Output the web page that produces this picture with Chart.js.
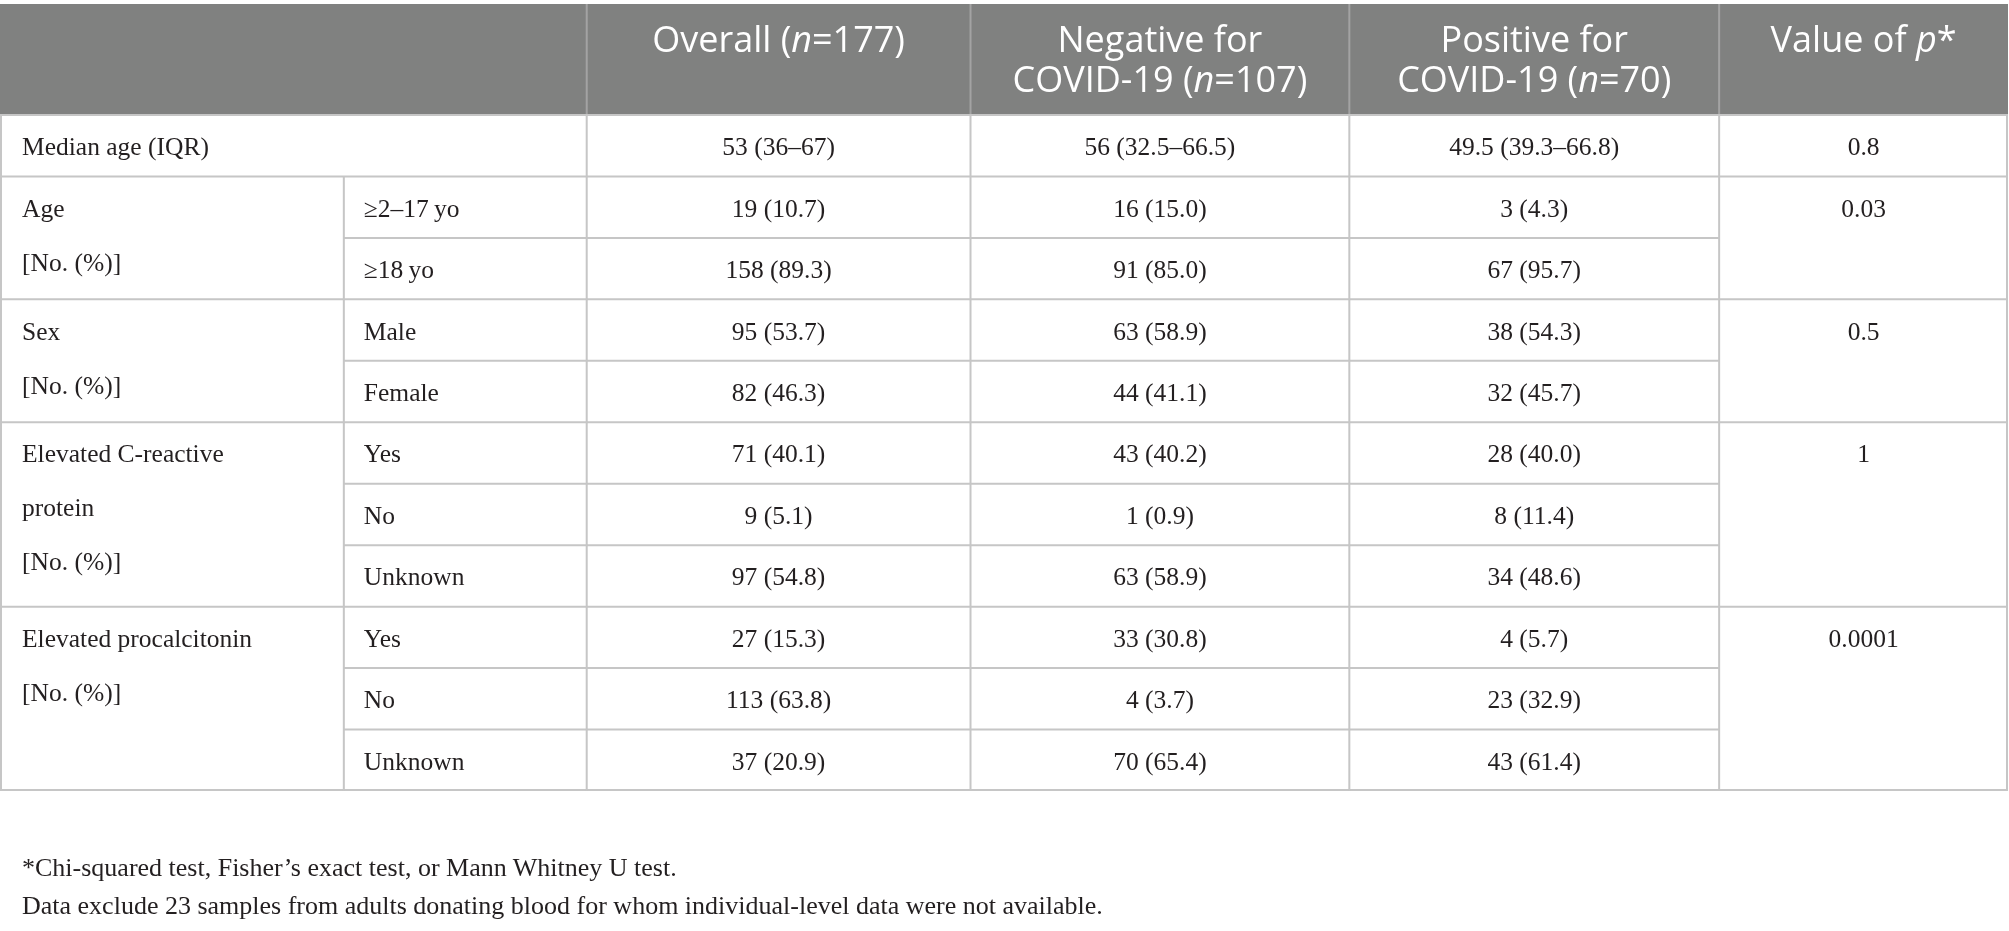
<!DOCTYPE html>
<html>
<head>
<meta charset="utf-8">
<script src="https://cdn.jsdelivr.net/npm/chart.js@4.4.1/dist/chart.umd.min.js"></script>
<style>
  html, body { margin: 0; padding: 0; background: #fff; }
  #wrap { position: relative; width: 2009px; height: 931px; }
  #box { position: absolute; left: 0; top: 0; width: 2009px; height: 931px; }
  .note { position: absolute; left: 22px; font: 26px 'Liberation Serif', serif; line-height: 30px; color: #231f20; white-space: nowrap; }
</style>
</head>
<body>
<div id="wrap">
  <div id="box"><canvas id="tbl"></canvas></div>
  <div class="note" style="top:853px">*Chi-squared test, Fisher’s exact test, or Mann Whitney U test.</div>
  <div class="note" style="top:891px">Data exclude 23 samples from adults donating blood for whom individual-level data were not available.</div>
</div>
<script>
// table content (underscores mark italic runs)
const headers = ['', '', 'Overall (_n_=177)', 'Negative for\nCOVID-19 (_n_=107)', 'Positive for\nCOVID-19 (_n_=70)', 'Value of _p_*'];
const groupLabels = ['Median age (IQR)', 'Age\n[No. (%)]', 'Sex\n[No. (%)]', 'Elevated C-reactive\nprotein\n[No. (%)]', 'Elevated procalcitonin\n[No. (%)]'];
const groupRows = [1, 2, 2, 3, 3];
const subLabels = ['', '≥2–17\u2009yo', '≥18\u2009yo', 'Male', 'Female', 'Yes', 'No', 'Unknown', 'Yes', 'No', 'Unknown'];
const overall = ['53 (36–67)', '19 (10.7)', '158 (89.3)', '95 (53.7)', '82 (46.3)', '71 (40.1)', '9 (5.1)', '97 (54.8)', '27 (15.3)', '113 (63.8)', '37 (20.9)'];
const negative = ['56 (32.5–66.5)', '16 (15.0)', '91 (85.0)', '63 (58.9)', '44 (41.1)', '43 (40.2)', '1 (0.9)', '63 (58.9)', '33 (30.8)', '4 (3.7)', '70 (65.4)'];
const positive = ['49.5 (39.3–66.8)', '3 (4.3)', '67 (95.7)', '38 (54.3)', '32 (45.7)', '28 (40.0)', '8 (11.4)', '34 (48.6)', '4 (5.7)', '23 (32.9)', '43 (61.4)'];
const pValues = ['0.8', '0.03', '0.5', '1', '0.0001'];

// layout
const colWidths = [344, 243, 384, 379, 370, 289];
const headUnits = 1.806;
const bodyFont = "25.5px 'Liberation Serif', serif";
const headFont = "36px 'Open Sans', sans-serif";
const headItalic = "italic 36px 'Open Sans', sans-serif";
const textColor = '#231f20';
const lineColor = '#c6c6c6';

const edges = colWidths.reduce((acc, w) => { acc.push(acc[acc.length - 1] + w); return acc; }, [0]);
const nRows = overall.length;
const groupStart = groupRows.reduce((acc, n, i) => { acc.push(i ? acc[i - 1] + groupRows[i - 1] : 0); return acc; }, []);
const rowCenter = i => headUnits + i + 0.5;
const colCenter = c => (edges[c] + edges[c + 1]) / 2;

function cells(texts, col, rows, align, pad) {
  return {
    data: rows.map(r => ({ x: align === 'left' ? edges[col] : colCenter(col), y: rowCenter(r) })),
    texts: texts,
    align: align,
    pad: pad || 0,
    pointRadius: 0,
    showLine: false
  };
}

const allRows = overall.map((_, i) => i);
const datasets = [
  cells(groupLabels, 0, groupStart, 'left', 22),
  cells(subLabels.slice(1), 1, allRows.slice(1), 'left', 20),
  cells(overall, 2, allRows, 'center'),
  cells(negative, 3, allRows, 'center'),
  cells(positive, 4, allRows, 'center'),
  cells(pValues, 5, groupStart, 'center')
];

function drawRich(ctx, str, x, yBase, align, font, italic) {
  const parts = str.split('_');
  let total = 0;
  parts.forEach((p, i) => { ctx.font = i % 2 ? italic : font; total += ctx.measureText(p).width; });
  let cx = align === 'center' ? x - total / 2 : x;
  ctx.textAlign = 'left';
  ctx.textBaseline = 'alphabetic';
  parts.forEach((p, i) => {
    ctx.font = i % 2 ? italic : font;
    ctx.fillText(p, cx, yBase);
    cx += ctx.measureText(p).width;
  });
}

function hLine(ctx, x0, x1, yy) {
  ctx.beginPath(); ctx.moveTo(x0, yy); ctx.lineTo(x1, yy); ctx.stroke();
}
function vLine(ctx, xx, y0, y1) {
  ctx.beginPath(); ctx.moveTo(xx, y0); ctx.lineTo(xx, y1); ctx.stroke();
}

const tablePlugin = {
  id: 'table',
  beforeDatasetsDraw(chart) {
    const { ctx, scales: { x, y }, chartArea: a } = chart;
    const hb = y.getPixelForValue(headUnits);
    const bottom = y.getPixelForValue(headUnits + nRows);
    ctx.save();
    ctx.fillStyle = '#808180';
    ctx.fillRect(a.left, a.top, a.right - a.left, hb - a.top);
    ctx.lineWidth = 2;
    // header separators
    ctx.strokeStyle = '#a3a3a3';
    for (let c = 2; c < edges.length - 1; c++) vLine(ctx, x.getPixelForValue(edges[c]), a.top, hb);
    // body grid
    ctx.strokeStyle = lineColor;
    hLine(ctx, a.left, a.right, hb);
    for (let r = 1; r < nRows; r++) {
      const yy = y.getPixelForValue(headUnits + r);
      const full = groupStart.includes(r);
      hLine(ctx, full ? a.left : x.getPixelForValue(edges[1]), full ? a.right : x.getPixelForValue(edges[5]), yy);
    }
    hLine(ctx, a.left, a.right, bottom - 1);
    for (let c = 2; c < edges.length - 1; c++) vLine(ctx, x.getPixelForValue(edges[c]), hb, bottom);
    vLine(ctx, x.getPixelForValue(edges[1]), y.getPixelForValue(headUnits + 1), bottom);
    vLine(ctx, a.left + 1, hb, bottom);
    vLine(ctx, a.right - 1, hb, bottom);
    // header text
    ctx.fillStyle = '#ffffff';
    headers.forEach((h, c) => {
      if (!h) return;
      h.split('\n').forEach((ln, k) => {
        drawRich(ctx, ln, x.getPixelForValue(colCenter(c)), a.top + 48 + k * 40, 'center', headFont, headItalic);
      });
    });
    ctx.restore();
  },
  afterDatasetsDraw(chart) {
    const { ctx } = chart;
    ctx.save();
    ctx.fillStyle = textColor;
    chart.data.datasets.forEach((ds, di) => {
      const meta = chart.getDatasetMeta(di);
      meta.data.forEach((pt, i) => {
        const px = pt.x + (ds.align === 'left' ? ds.pad : 0);
        String(ds.texts[i]).split('\n').forEach((ln, k) => {
          drawRich(ctx, ln, px, pt.y + 9.5 + k * 54, ds.align, bodyFont, 'italic ' + bodyFont);
        });
      });
    });
    ctx.restore();
  }
};

new Chart(document.getElementById('tbl'), {
  type: 'scatter',
  data: { datasets: datasets },
  options: {
    responsive: true,
    maintainAspectRatio: false,
    animation: false,
    events: [],
    layout: { padding: { left: 0, right: 1, top: 4, bottom: 140 } },
    plugins: { legend: { display: false }, tooltip: { enabled: false } },
    scales: {
      x: { type: 'linear', display: false, min: 0, max: edges[edges.length - 1] },
      y: { type: 'linear', display: false, reverse: true, min: 0, max: headUnits + nRows }
    }
  },
  plugins: [tablePlugin]
});
</script>
</body>
</html>
